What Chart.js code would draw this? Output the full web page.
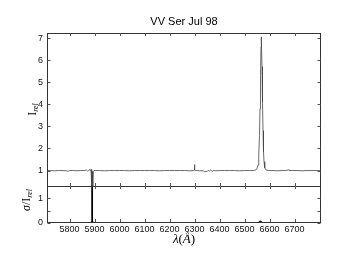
<!DOCTYPE html>
<html>
<head>
<meta charset="utf-8">
<script src="https://cdn.jsdelivr.net/npm/chart.js@4"></script>
<style>
  body { margin: 0; background: #fff; }
</style>
</head>
<body>
<canvas id="c" width="341" height="256"></canvas>
<script>
// spectrum, relative intensity
const waveTop = [5710, 5725, 5740, 5755, 5770, 5785, 5795, 5800, 5815, 5830, 5845, 5860,
  5868, 5872, 5876, 5880, 5883, 5886, 5888, 5889.5, 5890.5, 5892, 5893.5, 5895, 5898, 5905,
  5920, 5940, 5960, 5980, 6000, 6020, 6040, 6060, 6080, 6100, 6120, 6140, 6160, 6180, 6200,
  6220, 6240, 6260, 6280, 6295, 6299, 6300, 6301, 6305, 6320, 6335, 6342, 6346, 6350, 6355,
  6360, 6365, 6370, 6375, 6385, 6400, 6420, 6440, 6460, 6480, 6500, 6520, 6535, 6545, 6550,
  6554, 6557, 6560, 6562, 6564, 6566, 6567, 6568, 6570, 6572, 6574, 6576, 6578, 6581, 6586,
  6595, 6610, 6630, 6650, 6665, 6678, 6681, 6690, 6710, 6730, 6750, 6770, 6790, 6806];
const fluxTop = [1.00, 1.00, 0.99, 1.00, 1.00, 0.99, 0.97, 1.00, 1.00, 0.99, 1.00, 1.00,
  1.02, 0.98, 1.00, 1.05, 0.99, 1.05, 0.98, 0.30, 0.92, 0.97, 0.30, 0.95, 1.00, 1.00,
  1.00, 0.99, 1.00, 1.00, 1.00, 1.00, 0.99, 1.00, 1.00, 1.00, 1.00, 1.00, 0.99, 1.00, 1.00,
  1.00, 1.00, 1.00, 0.99, 1.00, 1.02, 1.27, 1.02, 1.00, 0.99, 0.99, 0.93, 0.97, 0.95, 1.01,
  0.98, 1.03, 0.96, 1.00, 0.99, 1.00, 1.00, 1.00, 1.00, 0.99, 1.00, 1.00, 1.00, 1.03, 1.08,
  1.25, 1.70, 2.60, 3.80, 5.30, 6.60, 7.05, 6.85, 5.70, 4.10, 2.80, 1.85, 1.40, 1.12, 1.03,
  1.00, 1.00, 0.99, 1.00, 1.00, 1.03, 1.00, 1.00, 1.00, 0.99, 1.00, 1.00, 1.00, 1.00];

// error, sigma / I_rel
const waveSig = [5710, 5800, 5870, 5882, 5885, 5888, 5889.3, 5890, 5890.8, 5891.6, 5892.5,
  5893.4, 5895, 5898, 5903, 6000, 6200, 6300, 6350, 6500, 6550, 6556, 6560, 6563, 6566,
  6570, 6576, 6600, 6700, 6806];
const sigmaVals = [0.005, 0.005, 0.005, 0.02, 0.04, 0.05, 0.40, 1.70, 0.60, 0.15, 0.80,
  0.06, 0.04, 0.02, 0.005, 0.005, 0.005, 0.01, 0.01, 0.005, 0.01, 0.03, 0.06, 0.09, 0.06,
  0.03, 0.01, 0.005, 0.005, 0.005];

const xTicks = [5800, 5900, 6000, 6100, 6200, 6300, 6400, 6500, 6600, 6700];
const yTopTicks = [1, 2, 3, 4, 5, 6, 7];
const yBotTicks = [0, 0.5, 1];

const tickFont = { family: '"Liberation Sans", Arial, sans-serif', size: 9 };
const plain = v => String(v);

// rich text: list of [text, font, dy]
function drawRich(ctx, parts, x, y, rot) {
  ctx.save();
  ctx.translate(x, y);
  if (rot) ctx.rotate(-Math.PI / 2);
  let w = 0;
  parts.forEach(p => { ctx.font = p[1]; w += ctx.measureText(p[0]).width; });
  let cx = -w / 2;
  ctx.textBaseline = 'middle';
  ctx.textAlign = 'left';
  parts.forEach(p => {
    ctx.font = p[1];
    ctx.fillText(p[0], cx, p[2] || 0);
    cx += ctx.measureText(p[0]).width;
  });
  ctx.restore();
}

const framePlugin = {
  id: 'frame',
  afterDraw(chart) {
    const { ctx, chartArea: a, scales } = chart;
    const x = scales.x, yT = scales.yTop, yB = scales.yBot;
    const L = a.left + 0.5, R = a.right - 0.5;
    ctx.save();
    ctx.strokeStyle = '#333';
    ctx.lineWidth = 1;
    ctx.strokeRect(L, yT.top + 0.5, R - L, yT.bottom - yT.top);
    ctx.strokeRect(L, yB.top + 0.5, R - L, yB.bottom - yB.top - 1);
    ctx.strokeStyle = '#555';
    ctx.beginPath();
    const t = 3;
    xTicks.forEach(v => {
      const px = Math.round(x.getPixelForValue(v)) + 0.5;
      [[yT.top, 1], [yT.bottom, -1], [yB.top, 1], [yB.bottom - 1, -1]].forEach(([yy, d]) => {
        ctx.moveTo(px, yy); ctx.lineTo(px, yy + d * t);
      });
    });
    [[yT, yTopTicks], [yB, yBotTicks]].forEach(([s, ticks]) => {
      ticks.forEach(v => {
        const py = Math.round(s.getPixelForValue(v)) + 0.5;
        ctx.moveTo(L, py); ctx.lineTo(L + t, py);
        ctx.moveTo(R, py); ctx.lineTo(R - t, py);
      });
    });
    ctx.stroke();

    ctx.fillStyle = '#000';
    ctx.font = '11px "Liberation Sans", Arial, sans-serif';
    ctx.textAlign = 'center';
    ctx.textBaseline = 'middle';
    ctx.fillText('VV Ser Jul 98', (a.left + a.right) / 2, 22);

    const serif = '"Liberation Serif", "DejaVu Serif", serif';
    drawRich(ctx, [['I', '12px ' + serif], ['rel', 'italic 8px ' + serif, 3]],
      33, (yT.top + yT.bottom) / 2, true);
    drawRich(ctx, [['σ', 'italic 12px ' + serif], ['/', '12px ' + serif], ['I', '12px ' + serif],
      ['rel', 'italic 8px ' + serif, 3]], 27, 200, true);
    drawRich(ctx, [['λ', 'italic 13px ' + serif], ['(', '13px ' + serif],
      ['Å', 'italic 13px ' + serif], [')', '13px ' + serif]], (a.left + a.right) / 2, 240, false);
    ctx.restore();
  }
};

new Chart(document.getElementById('c'), {
  type: 'line',
  data: {
    datasets: [
      {
        data: waveTop.map((w, i) => ({ x: w, y: fluxTop[i] })),
        yAxisID: 'yTop',
        borderColor: '#444',
        borderWidth: 0.8,
        pointRadius: 0
      },
      {
        data: waveSig.map((w, i) => ({ x: w, y: sigmaVals[i] })),
        yAxisID: 'yBot',
        borderColor: '#000',
        backgroundColor: '#000',
        borderWidth: 1,
        fill: 'origin',
        pointRadius: 0
      }
    ]
  },
  options: {
    responsive: false,
    devicePixelRatio: 1,
    animation: false,
    layout: { padding: { top: 33, right: 20, left: 0, bottom: 0 } },
    plugins: { legend: { display: false }, tooltip: { enabled: false } },
    scales: {
      x: {
        type: 'linear',
        min: 5710,
        max: 6806,
        afterBuildTicks: s => { s.ticks = xTicks.map(v => ({ value: v })); },
        afterFit: s => { s.height = 33; },
        grid: { display: false, drawTicks: false },
        border: { display: false },
        ticks: { font: tickFont, color: '#111', padding: 1, maxRotation: 0, callback: plain }
      },
      yBot: {
        position: 'left',
        stack: 'panels',
        stackWeight: 37,
        min: 0,
        max: 1.5,
        afterBuildTicks: s => { s.ticks = yBotTicks.map(v => ({ value: v })); },
        afterFit: s => { s.width = 47; },
        grid: { display: false, drawTicks: false },
        border: { display: false },
        ticks: { font: tickFont, color: '#111', padding: 4, callback: plain }
      },
      yTop: {
        position: 'left',
        stack: 'panels',
        stackWeight: 153,
        min: 0.3,
        max: 7.23,
        afterBuildTicks: s => { s.ticks = yTopTicks.map(v => ({ value: v })); },
        afterFit: s => { s.width = 47; },
        grid: { display: false, drawTicks: false },
        border: { display: false },
        ticks: { font: tickFont, color: '#111', padding: 4, callback: plain }
      }
    }
  },
  plugins: [framePlugin]
});
</script>
</body>
</html>
